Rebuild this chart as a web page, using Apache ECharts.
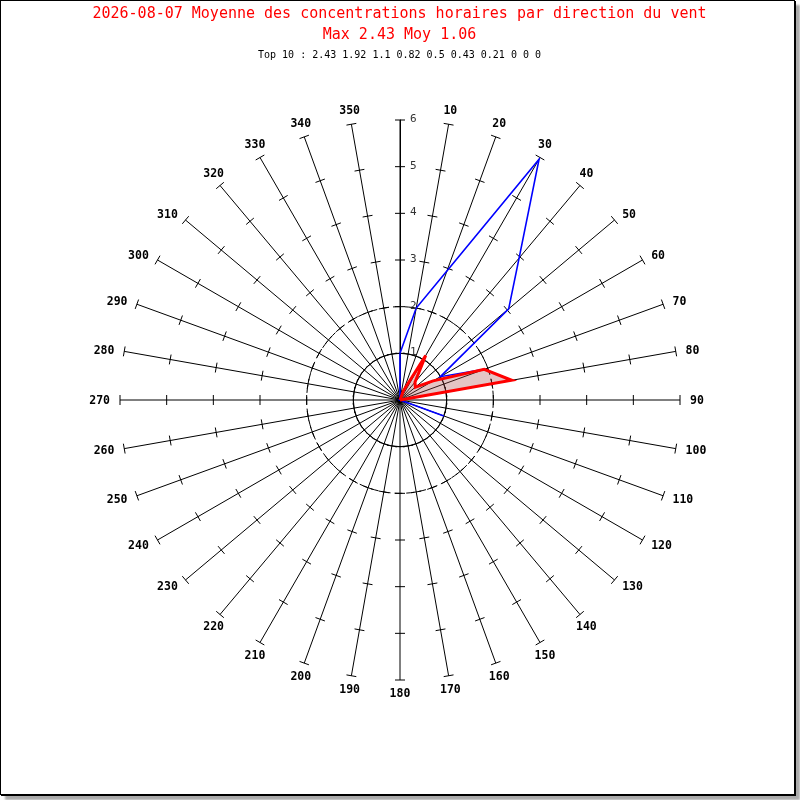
<!DOCTYPE html>
<html>
<head>
<meta charset="utf-8">
<title>Moyenne des concentrations horaires par direction du vent</title>
<script src="https://cdn.jsdelivr.net/npm/echarts@6/dist/echarts.min.js"></script>
<style>
    html, body { margin: 0; padding: 0; background: #fff; }
    #main {
        position: absolute; left: 0; top: 0;
        width: 793px; height: 793px;
        border: 1px solid #000;
        box-shadow: 1px 1px 0 #000, 5px 5px 2px #aaa;
        background: #fff;
    }
</style>
</head>
<body>
<div id="main"></div>
<script>
// directions (degrees from north, clockwise)
var directions = [0, 10, 20, 30, 40, 50, 60, 70, 80, 90, 100, 110,
                  120, 130, 140, 150, 160, 170, 180, 190, 200, 210, 220, 230,
                  240, 250, 260, 270, 280, 290, 300, 310, 320, 330, 340, 350];

// blue series
var blueValues = [1.0, 2.0, 2.95, 5.96, 3.97, 3.04, 1.0, 1.92, 2.43, 0, 0, 1.0,
                  0, 0, 0, 0, 0, 0, 0, 0, 0, 0, 0, 0,
                  0, 0, 0, 0, 0, 0, 0, 0, 0, 0, 0, 0];

// red series (hourly mean per direction)
var redValues = [0, 0, 0.21, 1.1, 0.5, 0.43, 0.82, 1.92, 2.43, 0, 0, 0,
                 0, 0, 0, 0, 0, 0, 0, 0, 0, 0, 0, 0,
                 0, 0, 0, 0, 0, 0, 0, 0, 0, 0, 0, 0];

var radiusTicks = [1, 2, 3, 4, 5, 6];
var gridCircles = [1, 2];
var top10 = [2.43, 1.92, 1.1, 0.82, 0.5, 0.43, 0.21, 0, 0, 0];
var maxValue = 2.43;
var meanValue = 1.06;
var dateLabel = '2026-08-07';

var mono = "'DejaVu Sans Mono', 'Liberation Mono', monospace";

function toLine(values) {
    var out = directions.map(function (d, i) { return [values[i], d]; });
    out.push([values[0], 360]);   // close the loop
    return out;
}

var tickData = [];
directions.forEach(function (d) {
    radiusTicks.forEach(function (r) { tickData.push([r, d]); });
});

var labelData = directions.filter(function (d) { return d !== 0; })
    .map(function (d) { return [6, d]; });

var option = {
    animation: false,
    backgroundColor: '#fff',
    graphic: [
        { type: 'text', x: 398.5, y: 13, style: { text: dateLabel + ' Moyenne des concentrations horaires par direction du vent',
            align: 'center', verticalAlign: 'middle', font: '15px ' + mono, fill: '#ff0000' } },
        { type: 'text', x: 398.5, y: 34, style: { text: 'Max ' + maxValue + ' Moy ' + meanValue,
            align: 'center', verticalAlign: 'middle', font: '15px ' + mono, fill: '#ff0000' } },
        { type: 'text', x: 398.5, y: 54, style: { text: 'Top 10 : ' + top10.join(' '),
            align: 'center', verticalAlign: 'middle', font: '10px ' + mono, fill: '#000' } }
    ],
    polar: {
        center: [399, 399],
        radius: 280
    },
    angleAxis: {
        type: 'value',
        min: 0,
        max: 360,
        interval: 10,
        startAngle: 90,
        clockwise: true,
        axisLine: { show: false },
        axisTick: { show: false },
        axisLabel: { show: false },
        splitLine: { show: true, lineStyle: { color: '#000', width: 1 } }
    },
    radiusAxis: {
        type: 'value',
        min: 0,
        max: 6,
        interval: 1,
        axisLine: { show: true, lineStyle: { color: '#000', width: 1 } },
        axisTick: { show: false },
        axisLabel: { show: false },
        splitLine: { show: false }
    },
    series: [
        {
            // grid circles
            type: 'custom',
            coordinateSystem: 'polar',
            silent: true,
            z: 1,
            data: gridCircles.map(function (r) { return [r, 0]; }),
            renderItem: function (params, api) {
                var c = api.coord([0, 0]);
                var p = api.coord([api.value(0), 0]);
                var rad = Math.sqrt(Math.pow(p[0] - c[0], 2) + Math.pow(p[1] - c[1], 2));
                return {
                    type: 'circle',
                    shape: { cx: c[0], cy: c[1], r: rad },
                    style: { fill: 'none', stroke: '#000', lineWidth: 1,
                             lineDash: api.value(0) === 2 ? [8, 4] : null }
                };
            }
        },
        {
            // tick marks across every spoke
            type: 'custom',
            coordinateSystem: 'polar',
            silent: true,
            z: 1,
            data: tickData,
            renderItem: function (params, api) {
                var a = api.value(1) * Math.PI / 180;
                var p = api.coord([api.value(0), api.value(1)]);
                var ux = Math.cos(a), uy = Math.sin(a);
                return {
                    type: 'line',
                    shape: { x1: p[0] - 5 * ux, y1: p[1] - 5 * uy, x2: p[0] + 5 * ux, y2: p[1] + 5 * uy },
                    style: { stroke: '#000', lineWidth: 1 }
                };
            }
        },
        {
            // radius labels along north spoke
            type: 'custom',
            coordinateSystem: 'polar',
            silent: true,
            z: 5,
            data: radiusTicks.map(function (r) { return [r, 0]; }),
            renderItem: function (params, api) {
                var p = api.coord([api.value(0), 0]);
                return {
                    type: 'text',
                    x: p[0] + 10, y: p[1] - 1,
                    style: { text: String(api.value(0)), align: 'left', verticalAlign: 'middle',
                             font: '11px ' + mono, fill: '#333' }
                };
            }
        },
        {
            // direction labels
            type: 'custom',
            coordinateSystem: 'polar',
            silent: true,
            z: 5,
            data: labelData,
            renderItem: function (params, api) {
                var d = api.value(1);
                var a = d * Math.PI / 180;
                var s = Math.sin(a), c = Math.cos(a);
                var p = api.coord([api.value(0), d]);
                var x = p[0] + 10 * s, y = p[1] - 10 * c;
                var align, valign;
                if (Math.abs(c) >= 0.7) {
                    align = 'center';
                    valign = c > 0 ? 'bottom' : 'top';
                    y += c > 0 ? 2.5 : -1.5;
                } else {
                    align = s > 0 ? 'left' : 'right';
                    valign = 'middle';
                    y += 1;
                }
                return {
                    type: 'text',
                    x: x, y: y,
                    style: { text: String(d), align: align, verticalAlign: valign,
                             font: 'bold 11.5px ' + mono, fill: '#000' }
                };
            }
        },
        {
            name: 'max',
            type: 'line',
            coordinateSystem: 'polar',
            data: toLine(blueValues),
            showSymbol: false,
            symbol: 'none',
            z: 3,
            lineStyle: { color: '#0000ff', width: 1.6, join: 'miter' }
        },
        {
            name: 'moyenne',
            type: 'line',
            coordinateSystem: 'polar',
            data: toLine(redValues),
            showSymbol: false,
            symbol: 'none',
            z: 4,
            lineStyle: { color: '#ff0000', width: 3, join: 'miter' },
            areaStyle: { color: 'rgba(170, 70, 70, 0.45)' }
        }
    ]
};

var myChart = echarts.init(document.getElementById('main'));
myChart.setOption(option);
</script>
</body>
</html>
